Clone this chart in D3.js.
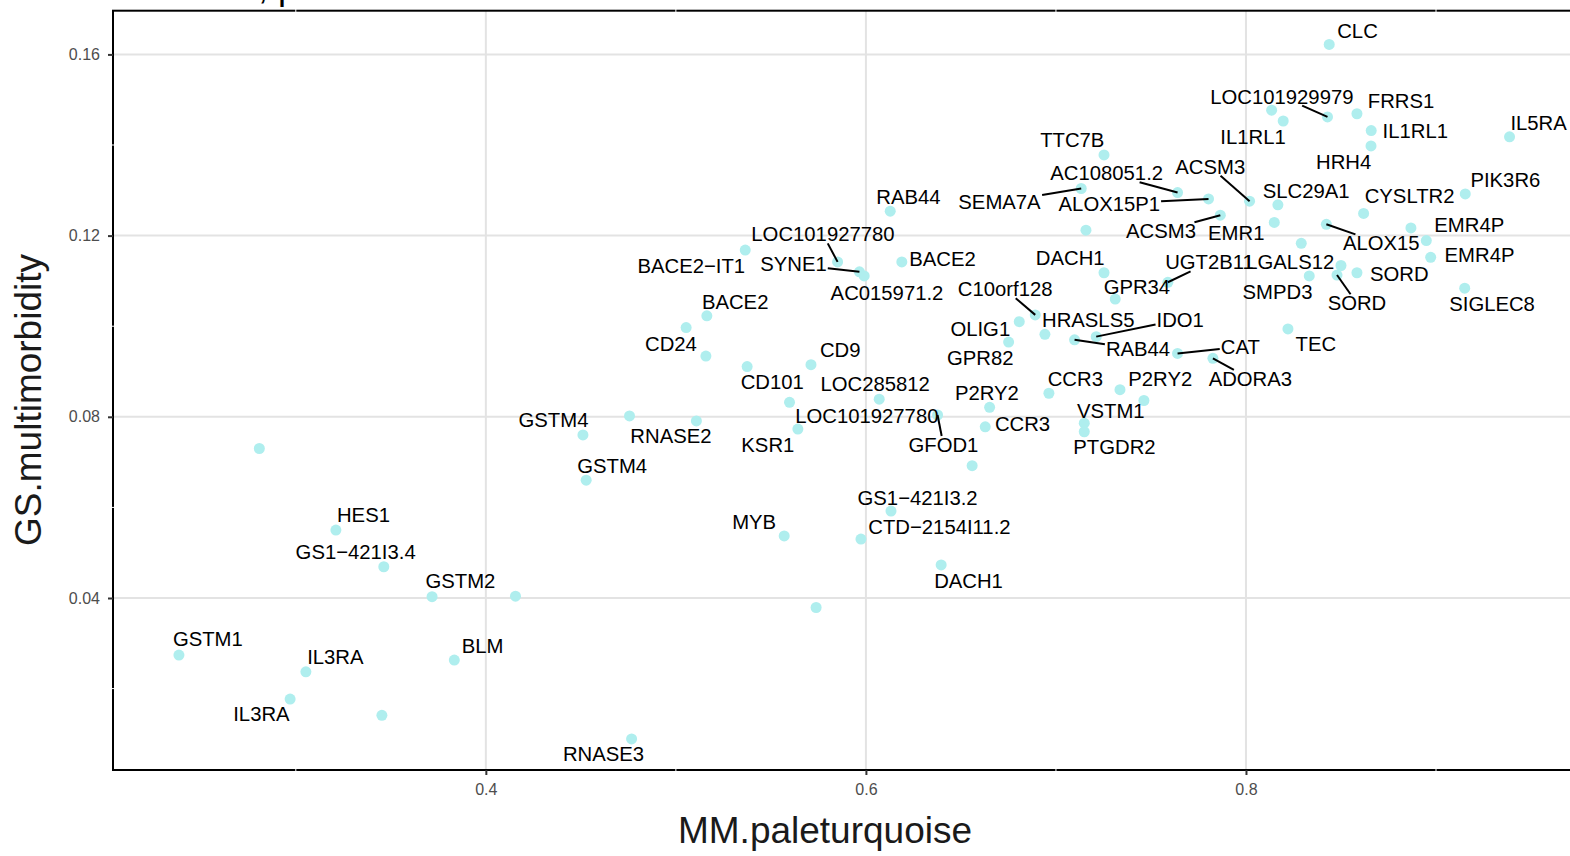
<!DOCTYPE html>
<html>
<head>
<meta charset="utf-8">
<script src="https://cdn.jsdelivr.net/npm/d3@7"></script>
<style>
  body { margin: 0; background: #fff; }
  text { font-family: "Liberation Sans", Arial, Helvetica, sans-serif; }
</style>
</head>
<body>
<div id="chart"></div>
<script>
// module membership vs gene significance, paleturquoise module
var genes = ["", "HES1", "GS1\u2212421I3.4", "GSTM2", "", "GSTM1", "IL3RA", "IL3RA", "", "BLM",
             "RNASE3", "GSTM4", "GSTM4", "", "RNASE2", "BACE2", "", "CD24", "CD101", "LOC101927780",
             "KSR1", "CD9", "LOC285812", "GFOD1", "", "GS1\u2212421I3.2", "MYB", "CTD\u22122154I11.2", "DACH1", "",
             "BACE2\u2212IT1", "LOC101927780", "SYNE1", "AC015971.2", "BACE2", "RAB44", "SEMA7A", "TTC7B", "AC108051.2", "ALOX15P1",
             "ACSM3", "ACSM3", "EMR1", "", "DACH1", "GPR34", "UGT2B11", "CLC", "LOC101929979", "",
             "IL1RL1", "FRRS1", "IL1RL1", "HRH4", "IL5RA", "PIK3R6", "CYSLTR2", "SLC29A1", "ALOX15", "EMR4P",
             "", "EMR4P", "", "LGALS12", "SMPD3", "SORD", "SORD", "SIGLEC8", "TEC", "IDO1",
             "RAB44", "CAT", "ADORA3", "P2RY2", "", "VSTM1", "PTGDR2", "CCR3", "P2RY2", "CCR3",
             "C10orf128", "OLIG1", "GPR82", "HRASLS5"];

var mmValues = [0.2808, 0.3211, 0.3463, 0.3717, 0.4156, 0.2385, 0.3053, 0.2970, 0.3453, 0.3834,
                0.4767, 0.4511, 0.4528, 0.4756, 0.5108, 0.5163, 0.5054, 0.5158, 0.5375, 0.5598,
                0.5642, 0.5711, 0.6070, 0.6377, 0.6559, 0.6132, 0.5570, 0.5974, 0.6396, 0.5738,
                0.5365, 0.5851, 0.5966, 0.5991, 0.6189, 0.6128, 0.7133, 0.7253, 0.7640, 0.7803,
                0.8019, 0.7865, 0.8149, 0.7158, 0.7253, 0.7312, 0.7589, 0.8438, 0.8429, 0.8135,
                0.8196, 0.8584, 0.8659, 0.8658, 0.9387, 0.9154, 0.8619, 0.8168, 0.8423, 0.8868,
                0.8949, 0.8972, 0.8291, 0.8500, 0.8333, 0.8479, 0.8584, 0.9151, 0.8221, 0.7212,
                0.7098, 0.7640, 0.7826, 0.7463, 0.7337, 0.7149, 0.7149, 0.6963, 0.6651, 0.6628,
                0.6891, 0.6807, 0.6751, 0.6942];

var gsValues = [0.0730, 0.0550, 0.0469, 0.0403, 0.0404, 0.0274, 0.0237, 0.0177, 0.0141, 0.0263,
                0.0089, 0.0760, 0.0660, 0.0802, 0.0791, 0.1023, 0.0997, 0.0934, 0.0911, 0.0832,
                0.0773, 0.0915, 0.0839, 0.0804, 0.0692, 0.0592, 0.0537, 0.0530, 0.0473, 0.0379,
                0.1168, 0.1142, 0.1120, 0.1111, 0.1142, 0.1254, 0.1304, 0.1378, 0.1295, 0.1281,
                0.1276, 0.1245, 0.1229, 0.1212, 0.1118, 0.1060, 0.1097, 0.1622, 0.1462, 0.1477,
                0.1453, 0.1469, 0.1432, 0.1398, 0.1418, 0.1292, 0.1249, 0.1268, 0.1225, 0.1217,
                0.1189, 0.1152, 0.1183, 0.1134, 0.1111, 0.1113, 0.1118, 0.1084, 0.0994, 0.0977,
                0.0970, 0.0940, 0.0929, 0.0836, 0.0860, 0.0786, 0.0767, 0.0852, 0.0821, 0.0778,
                0.1025, 0.1010, 0.0965, 0.0982];

// repelled label anchors (data units), null for unlabeled points
var labelMM = [null, 0.3356, 0.3315, 0.3866, null, 0.2537, 0.3208, 0.2819, null, 0.3983,
               0.4619, 0.4356, 0.4665, null, 0.4974, 0.5312, null, 0.4974, 0.5507, 0.6005,
               0.5484, 0.5865, 0.6049, 0.6408, null, 0.6272, 0.5412, 0.6387, 0.6540, null,
               0.5081, 0.5774, 0.5619, 0.6111, 0.6403, 0.6224, 0.6703, 0.7086, 0.7267, 0.7281,
               0.7812, 0.7553, 0.7949, null, 0.7075, 0.7426, 0.7808, 0.8587, 0.8189, null,
               0.8037, 0.8816, 0.8891, 0.8514, 0.9540, 0.9365, 0.8861, 0.8317, 0.8712, 0.9175,
               null, 0.9229, null, 0.8233, 0.8166, 0.8584, 0.8807, 0.9295, 0.8368, 0.7654,
               0.7432, 0.7970, 0.8023, 0.7549, null, 0.7289, 0.7308, 0.7102, 0.6637, 0.6824,
               0.6733, 0.6602, 0.6602, 0.7170];

var labelGS = [null, 0.0583, 0.0501, 0.0438, null, 0.0309, 0.0270, 0.0144, null, 0.0294,
               0.0055, 0.0793, 0.0691, null, 0.0758, 0.1053, null, 0.0961, 0.0876, 0.0802,
               0.0739, 0.0947, 0.0872, 0.0738, null, 0.0622, 0.0567, 0.0556, 0.0438, null,
               0.1133, 0.1203, 0.1137, 0.1073, 0.1148, 0.1286, 0.1274, 0.1411, 0.1338, 0.1270,
               0.1352, 0.1210, 0.1207, null, 0.1150, 0.1086, 0.1141, 0.1652, 0.1507, null,
               0.1418, 0.1497, 0.1431, 0.1362, 0.1449, 0.1323, 0.1287, 0.1298, 0.1183, 0.1223,
               null, 0.1157, null, 0.1142, 0.1075, 0.1051, 0.1115, 0.1049, 0.0962, 0.1015,
               0.0950, 0.0955, 0.0884, 0.0883, null, 0.0813, 0.0734, 0.0884, 0.0852, 0.0784,
               0.1082, 0.0995, 0.0930, 0.1015];

var hasSegment = [0, 0, 0, 0, 0, 0, 0, 0, 0, 0,
                  0, 0, 0, 0, 0, 0, 0, 0, 0, 0,
                  0, 0, 0, 1, 0, 0, 0, 0, 0, 0,
                  0, 1, 1, 0, 0, 0, 1, 0, 1, 1,
                  1, 1, 0, 0, 0, 0, 1, 0, 1, 0,
                  0, 0, 0, 0, 0, 0, 0, 0, 1, 0,
                  0, 0, 0, 0, 0, 1, 0, 0, 0, 1,
                  1, 1, 1, 0, 0, 0, 0, 0, 0, 0,
                  1, 0, 0, 0];

var xTicks = [0.4, 0.6, 0.8];
var yTicks = [0.04, 0.08, 0.12, 0.16];
var xMinor = [0.3, 0.5, 0.7, 0.9];
var yMinor = [0.02, 0.06, 0.10, 0.14];
var xDomain = [0.2038, 0.9863];
var yDomain = [0.00203, 0.16965];
var titleText = "cor=0.55, p=1.9e-08";
var xTitle = "MM.paleturquoise";
var yTitle = "GS.multimorbidity";

var W = 1570, H = 856;
var margin = {top: 10.7, left: 113};
var width = 1487;          // panel runs past the right edge of the picture
var height = 770 - margin.top;

var svg = d3.select("#chart").append("svg")
    .attr("width", W)
    .attr("height", H);

var g = svg.append("g")
    .attr("transform", "translate(" + margin.left + "," + margin.top + ")");

var x = d3.scaleLinear().domain(xDomain).range([0, width]);
var y = d3.scaleLinear().domain(yDomain).range([height, 0]);

// major grid
g.selectAll(".vgrid").data(xTicks).enter().append("line")
    .attr("x1", function(d) { return x(d); })
    .attr("x2", function(d) { return x(d); })
    .attr("y1", 0).attr("y2", height)
    .attr("stroke", "#e3e3e3").attr("stroke-width", 2);
g.selectAll(".hgrid").data(yTicks).enter().append("line")
    .attr("y1", function(d) { return y(d); })
    .attr("y2", function(d) { return y(d); })
    .attr("x1", 0).attr("x2", width)
    .attr("stroke", "#e3e3e3").attr("stroke-width", 2);

// panel border
g.append("rect")
    .attr("x", 0).attr("y", 0)
    .attr("width", width).attr("height", height)
    .attr("fill", "none")
    .attr("stroke", "#000")
    .attr("stroke-width", 2);

// minor grid shows only as notches in the border
xMinor.forEach(function(d) {
  [0, height].forEach(function(yy) {
    g.append("line")
        .attr("x1", x(d)).attr("x2", x(d))
        .attr("y1", yy - 2).attr("y2", yy + 2)
        .attr("stroke", "#fff").attr("stroke-width", 1);
  });
});
yMinor.forEach(function(d) {
  g.append("line")
      .attr("y1", y(d)).attr("y2", y(d))
      .attr("x1", -2).attr("x2", 2)
      .attr("stroke", "#fff").attr("stroke-width", 1);
});

// axes
var xAxis = g.append("g")
    .attr("transform", "translate(0," + height + ")")
    .call(d3.axisBottom(x).tickValues(xTicks).tickFormat(d3.format(".1f")).tickSize(5).tickPadding(9));
var yAxis = g.append("g")
    .call(d3.axisLeft(y).tickValues(yTicks).tickFormat(d3.format(".2f")).tickSize(5).tickPadding(8));

[xAxis, yAxis].forEach(function(a) {
  a.select(".domain").remove();
  a.selectAll(".tick line").attr("stroke", "#333").attr("stroke-width", 2);
  a.selectAll(".tick text")
      .attr("fill", "#4d4d4d")
      .style("font-size", "16px")
      .style("font-family", "'Liberation Sans', Arial, sans-serif");
});

// points
var idx = d3.range(genes.length);
g.selectAll(".pt").data(idx).enter().append("circle")
    .attr("class", "pt")
    .attr("cx", function(i) { return x(mmValues[i]); })
    .attr("cy", function(i) { return y(gsValues[i]); })
    .attr("r", 5.5)
    .attr("fill", "#afeeee");

// labels
var labelled = idx.filter(function(i) { return labelMM[i] !== null; });
var segLayer = g.append("g");
var labels = g.selectAll(".lab").data(labelled).enter().append("text")
    .attr("class", "lab")
    .attr("x", function(i) { return x(labelMM[i]); })
    .attr("y", function(i) { return y(labelGS[i]); })
    .attr("dy", "0.35em")
    .attr("text-anchor", "middle")
    .style("font-size", "20.3px")
    .attr("fill", "#000")
    .text(function(i) { return genes[i]; });

// leader segments from the point to the edge of its label box
labels.each(function(i) {
  if (!hasSegment[i]) return;
  var b = this.getBBox();
  var cx = b.x + b.width / 2, cy = b.y + b.height / 2;
  var hw = b.width / 2 + 1, hh = b.height / 2 - 2;
  var px = x(mmValues[i]), py = y(gsValues[i]);
  var dx = px - cx, dy = py - cy;
  var t = Math.min(dx !== 0 ? hw / Math.abs(dx) : Infinity,
                   dy !== 0 ? hh / Math.abs(dy) : Infinity);
  if (t >= 1) return;
  segLayer.append("line")
      .attr("x1", px).attr("y1", py)
      .attr("x2", cx + dx * t).attr("y2", cy + dy * t)
      .attr("stroke", "#000")
      .attr("stroke-width", 2);
});

// axis titles
svg.append("text")
    .attr("x", 825).attr("y", 843)
    .attr("text-anchor", "middle")
    .style("font-size", "37px")
    .attr("fill", "#1a1a1a")
    .text(xTitle);

svg.append("text")
    .attr("transform", "translate(41,400) rotate(-90)")
    .attr("text-anchor", "middle")
    .style("font-size", "37px")
    .attr("fill", "#1a1a1a")
    .text(yTitle);

// title, mostly cropped off the top
svg.append("text")
    .attr("x", 117).attr("y", -1)
    .style("font-size", "36px")
    .attr("fill", "#000")
    .text(titleText);
</script>
</body>
</html>
